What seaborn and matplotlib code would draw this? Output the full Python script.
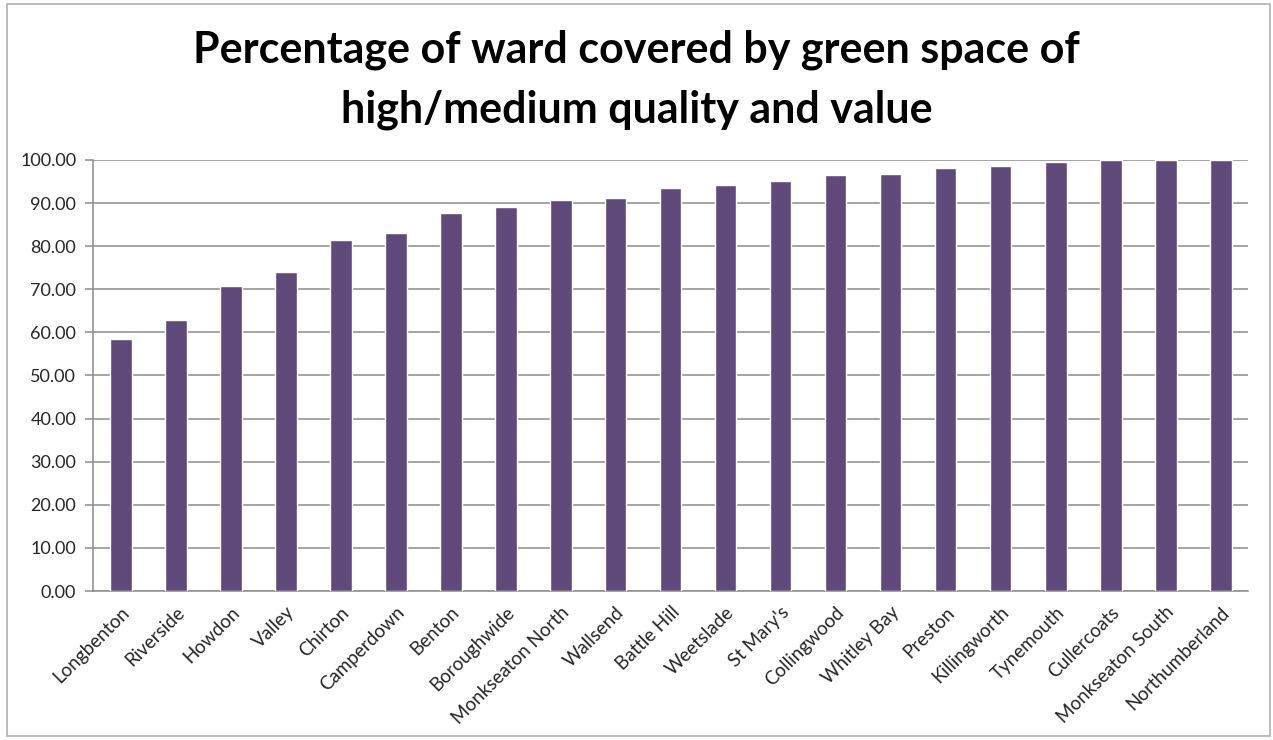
import matplotlib
matplotlib.use("Agg")
import matplotlib.pyplot as plt
import seaborn as sns
from matplotlib.patches import Rectangle
from matplotlib.ticker import FixedLocator

wards = ["Longbenton", "Riverside", "Howdon", "Valley", "Chirton", "Camperdown",
         "Benton", "Boroughwide", "Monkseaton North", "Wallsend", "Battle Hill",
         "Weetslade", "St Mary's", "Collingwood", "Whitley Bay", "Preston",
         "Killingworth", "Tynemouth", "Cullercoats", "Monkseaton South",
         "Northumberland"]
coverage = [58.4, 62.9, 70.8, 73.9, 81.4, 83.0, 87.6, 89.2, 90.7, 91.1, 93.6,
            94.2, 95.1, 96.6, 96.7, 98.1, 98.7, 99.6, 100.0, 100.0, 100.0]
y_ticks = [0, 10, 20, 30, 40, 50, 60, 70, 80, 90, 100]
title = "Percentage of ward covered by green space of\nhigh/medium quality and value"

sns.set_theme(style="white")
plt.rcParams["font.family"] = ["Lato", "DejaVu Sans"]

W, H = 1273, 740
fig = plt.figure(figsize=(W / 100, H / 100), dpi=100)
ax = fig.add_axes([93 / W, 1 - 591 / H, (1248 - 93) / W, (591 - 160) / H])

bar_color = "#5F4A7B"
grid_color = "#8C8C8C"
text_color = "#262626"

sns.barplot(x=wards, y=coverage, color=bar_color, saturation=1, width=0.4, ax=ax, zorder=3)

ax.set_xlim(-0.5, len(wards) - 0.5)
ax.set_ylim(0, 100)
ax.set_yticks(y_ticks)
ax.set_yticklabels([f"{v:.2f}" for v in y_ticks], fontsize=13, color=text_color)
ax.yaxis.grid(True, color=grid_color, linewidth=1.1, zorder=0)
ax.xaxis.grid(False)
ax.set_axisbelow(True)

ax.set_xticks(range(len(wards)))
ax.set_xticklabels(wards, rotation=45, ha="right", rotation_mode="anchor",
                   fontsize=13.5, color=text_color)
ax.xaxis.set_minor_locator(FixedLocator([i - 0.5 for i in range(len(wards) + 1)]))
ax.tick_params(axis="x", which="major", length=0, pad=9)
ax.tick_params(axis="x", which="minor", length=6, width=1.1, color=grid_color, direction="out")
ax.tick_params(axis="y", which="major", length=6, width=1.1, color=grid_color, direction="out", left=True, pad=6)

for side in ["top", "right"]:
    ax.spines[side].set_visible(False)
for side in ["left", "bottom"]:
    ax.spines[side].set_visible(True)
    ax.spines[side].set_color(grid_color)
    ax.spines[side].set_linewidth(1.1)

ax.set_xlabel("")
ax.set_ylabel("")

fig.text(0.5, 1 - 80 / H, title, ha="center", va="center", fontsize=31,
         fontweight="bold", color="black", linespacing=1.6)

fig.patches.append(Rectangle((7 / W, 4 / H), (1270 - 7) / W, (736 - 4) / H,
                             transform=fig.transFigure, fill=False,
                             edgecolor="#B0B0B0", linewidth=1.2))

fig.savefig("out.png", dpi=100, facecolor="white")
